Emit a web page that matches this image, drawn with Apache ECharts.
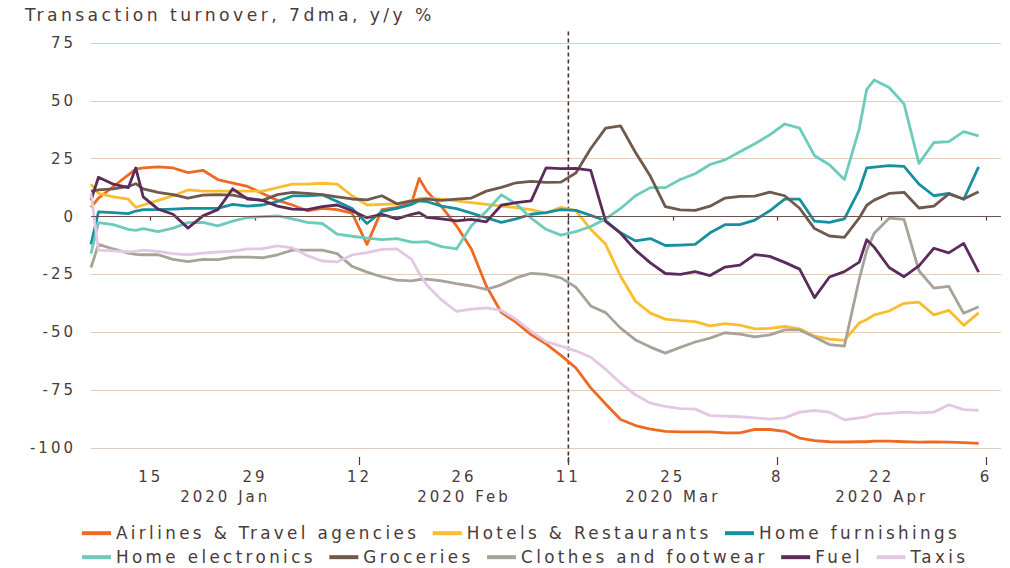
<!DOCTYPE html>
<html>
<head>
<meta charset="utf-8">
<title>Transaction turnover, 7dma</title>
<script src="https://cdn.jsdelivr.net/npm/echarts@6.0.0/dist/echarts.min.js"></script>
<style>
  html, body { margin: 0; padding: 0; background: #ffffff; }
  #chart { width: 1010px; height: 568px; }
  /* the source artwork uses a wide, tracked typeface */
  #chart svg text { letter-spacing: 0.2em; }
</style>
</head>
<body>
<div id="chart"></div>
<script>
;(function () {

    'use strict';

    // x categories (observation dates)
    var dates = [
        '2020-01-07', '2020-01-08', '2020-01-10', '2020-01-12', '2020-01-13', '2020-01-14', '2020-01-16',
        '2020-01-18', '2020-01-20', '2020-01-22', '2020-01-24', '2020-01-26', '2020-01-28', '2020-01-30',
        '2020-02-01', '2020-02-03', '2020-02-05', '2020-02-07', '2020-02-09', '2020-02-11', '2020-02-13',
        '2020-02-15', '2020-02-17', '2020-02-19', '2020-02-20', '2020-02-21', '2020-02-23', '2020-02-25',
        '2020-02-27', '2020-02-29',
        '2020-03-02', '2020-03-04', '2020-03-06', '2020-03-08', '2020-03-10', '2020-03-12', '2020-03-14',
        '2020-03-16', '2020-03-18', '2020-03-20', '2020-03-22', '2020-03-24', '2020-03-26', '2020-03-28',
        '2020-03-30',
        '2020-04-01', '2020-04-03', '2020-04-05', '2020-04-07', '2020-04-09', '2020-04-11', '2020-04-13',
        '2020-04-15', '2020-04-17', '2020-04-19', '2020-04-20', '2020-04-21', '2020-04-23', '2020-04-25',
        '2020-04-27', '2020-04-29',
        '2020-05-01', '2020-05-03', '2020-05-05'
    ];

    // y/y %, one value per date above
    var airlines = [
        4, 8, 13, 18, 20.5, 21, 21.5, 21, 19, 20, 16, 14.5, 13, 10,
        7, 5, 2.5, 3.5, 3, 1.5, -12, 3, 4, 6, 16.5, 11, 4.3, -4, -14, -30,
        -41.4, -45.7, -51, -55, -60, -65.4, -74, -81, -87.7, -90.3, -91.8, -92.8, -93, -93, -93,
        -93.5, -93.5, -92, -92, -92.8, -95.7, -96.8, -97.3, -97.4, -97.3, -97.3, -97, -97, -97.3, -97.5, -97.4,
        -97.5, -97.7, -98
    ];
    var hotels = [
        14, 10, 8.5, 7.5, 4, 5, 7, 9, 11.5, 11, 11, 11, 11, 11,
        12.5, 14, 14, 14.4, 14, 9, 5, 5.3, 5.5, 7, 7.8, 8, 7.5, 6.8, 6, 5.3,
        4.5, 3.9, 3, 1.5, 4, 2.6, -5.5, -12, -25.8, -36.6, -41.7, -44.3, -45, -45.4, -47.2,
        -46.3, -46.9, -48.5, -48.3, -47.5, -48.5, -51.7, -53, -53.5, -46, -44.5, -42.5, -40.8, -37.5, -37, -42.5,
        -40.5, -47, -41.6
    ];
    var furnishings = [
        -12, 2, 1.7, 1.3, 2.4, 3, 3, 3.2, 3.5, 3.5, 3.5, 5.3, 4.5, 5,
        6.5, 8.9, 9, 9.4, 6.5, 3.5, -3, 2.2, 3.5, 5.3, 6.8, 6.5, 4.5, 3.4, 1.5, -0.5,
        -2.5, -1, 1, 1.7, 3, 2.7, 0.5, -1.8, -7, -10.5, -9.5, -12.5, -12.3, -12, -7,
        -3.5, -3.5, -1.5, 2.5, 7.5, 7.5, -2, -2.5, -1, 11.5, 21, 21.4, 22, 21.7, 14, 9,
        10, 7.5, 21.5
    ];
    var electronics = [
        -16, -2.6, -3.5, -5.5, -6, -5.2, -6.5, -5, -2.6, -2.5, -4, -2, -0.4, 0,
        0.3, -1, -2.5, -3, -7.6, -8.5, -9.3, -10, -9.5, -11, -11, -10.8, -13, -14, -4, 2.3,
        9.4, 5.5, -0.7, -5.5, -8, -6.5, -4.3, -1, 3.5, 9, 12.5, 12.5, 16, 18.5, 22.5,
        24.5, 28, 31.5, 35.3, 40, 38.2, 26.3, 22.4, 16, 38, 55, 59, 55.8, 48.7, 23, 32,
        32.4, 36.7, 34.9
    ];
    var groceries = [
        11, 11.5, 12, 13, 14.2, 12, 10.5, 9.5, 8, 9.3, 9.5, 9.3, 8, 7,
        9.5, 10.5, 10, 9.5, 8.5, 7.6, 7.2, 9, 5.5, 6.8, 7.2, 7.5, 7, 7.5, 8, 11,
        12.6, 14.6, 15.2, 14.8, 14.9, 18.8, 29.4, 38.2, 39.2, 27.7, 17.4, 4.3, 2.9, 2.7, 4.5,
        8, 8.7, 8.8, 10.6, 9, 3.6, -5.2, -8.4, -9, -0.6, 4.9, 7.1, 10, 10.5, 3.7, 4.5,
        9.8, 7.6, 10.7
    ];
    var clothes = [
        -22, -12, -14, -15.8, -16.3, -16.5, -16.5, -18.5, -19.5, -18.5, -18.6, -17.5, -17.5, -17.8,
        -16.5, -14.5, -14.5, -14.5, -16, -21.5, -24, -26, -27.5, -27.8, -27.2, -27, -27.8, -29, -30, -31.5,
        -29.5, -26.5, -24.5, -25, -26.5, -30.5, -38.6, -41.5, -48.2, -53.3, -56.4, -59, -56.5, -54.2, -52.5,
        -50.2, -50.8, -52, -51.1, -49, -49, -52, -55.3, -56, -27, -14.6, -7.2, -0.7, -1.2, -23.4, -30.9,
        -30.2, -41.8, -39
    ];
    var fuel = [
        7, 17, 14, 12.5, 21, 8.5, 3.2, 1, -5, 0.3, 3, 12, 7.5, 7,
        4.5, 3.2, 3, 4.3, 5, 2.5, -0.5, 1, -1, 1, 1.7, -0.3, -1, -1.9, -1.2, -2.3,
        4.9, 6, 6.8, 21, 20.7, 20.8, 20, -2.1, -7.2, -14.5, -20, -24.6, -25, -23.8, -25.5,
        -21.8, -21, -16.4, -17.2, -19.8, -22.7, -35, -26.1, -23.8, -19.7, -10, -13.2, -22, -26, -21.3, -13.7,
        -15.7, -11.6, -24
    ];
    var taxis = [
        10, -14.5, -14.8, -15.2, -15, -14.5, -15, -16, -16.5, -15.8, -15.3, -14.9, -14, -13.9,
        -12.7, -13.5, -16.9, -19.2, -19.6, -16.6, -15.6, -14.2, -14, -18.5, -24.5, -29.6, -36, -41, -40, -39.5,
        -40.5, -44.5, -49.5, -54, -56, -58, -60.8, -66, -72, -77, -80.6, -82, -83, -83.2, -86,
        -86.2, -86.5, -87, -87.5, -87, -84.5, -83.8, -84.5, -87.8, -87, -86.5, -85.4, -85, -84.5, -84.8, -84.5,
        -81.3, -83.4, -83.7
    ];

    var seriesNames = [
        'Airlines & Travel agencies', 'Hotels & Restaurants', 'Home furnishings',
        'Home electronics', 'Groceries', 'Clothes and footwear', 'Fuel', 'Taxis'
    ];
    var seriesValues = [airlines, hotels, furnishings, electronics, groceries, clothes, fuel, taxis];
    var seriesColors = ['#ee6a24', '#fbbd30', '#16909f', '#6dcbbb', '#6f594d', '#a8a398', '#5b2c5b', '#e3c7e3'];

    var legendRow1 = ['Airlines & Travel agencies', 'Hotels & Restaurants', 'Home furnishings'];
    var legendRow2 = ['Home electronics', 'Groceries', 'Clothes and footwear', 'Fuel', 'Taxis'];

    // axis ticks and labels
    var dayTickDates = ['2020-01-15', '2020-01-29', '2020-02-12', '2020-02-26', '2020-03-11',
                        '2020-03-25', '2020-04-08', '2020-04-22', '2020-05-06'];
    var longTickDates = ['2020-02-12', '2020-03-11', '2020-04-08', '2020-05-06'];
    var monthLabelDates = ['2020-01-25', '2020-02-26', '2020-03-25', '2020-04-22'];
    var monthLabels = ['2020 Jan', '2020 Feb', '2020 Mar', '2020 Apr'];
    var axisStart = '2020-01-07';
    var axisEnd = '2020-05-08';
    var eventDate = '2020-03-11';

    var titleText = 'Transaction turnover, 7dma, y/y %';
    var ink = '#4b3a3a';
    var font = 'DejaVu Sans';
    var SPACING = 0.2;

    // dates are placed on a value axis as day numbers (1 Jan 2020 = 0)
    var dayOf = function (s) {
        var p = s.split('-');
        return Math.round((new Date(+p[0], +p[1] - 1, +p[2]) - new Date(2020, 0, 1)) / 86400000);
    };
    var dateOf = function (n) {
        return new Date(2020, 0, 1 + Math.round(n));
    };

    // let the layout know about the tracked lettering
    if (echarts.setPlatformAPI) {
        var measureCtx = document.createElement('canvas').getContext('2d');
        echarts.setPlatformAPI({
            measureText: function (text, f) {
                text = text == null ? '' : String(text);
                measureCtx.font = f || '12px sans-serif';
                var m = /(\d+(?:\.\d+)?)px/.exec(f || '');
                var size = m ? parseFloat(m[1]) : 12;
                return { width: measureCtx.measureText(text).width + text.length * size * SPACING };
            }
        });
    }

    var dayTicks = dayTickDates.map(dayOf);
    var longTicks = longTickDates.map(dayOf);
    var monthTicks = monthLabelDates.map(dayOf);
    var xMin = dayOf(axisStart);
    var xMax = dayOf(axisEnd);

    var lineSeries = seriesNames.map(function (name, i) {
        return {
            name: name,
            type: 'line',
            data: dates.map(function (d, k) { return [dayOf(d), seriesValues[i][k]]; }),
            symbol: 'none',
            showSymbol: false,
            color: seriesColors[i],
            lineStyle: { width: 2.8, color: seriesColors[i], join: 'round' },
            emphasis: { disabled: true },
            z: 3
        };
    });

    // dashed event marker and the zero line
    lineSeries.unshift({
        name: 'event',
        type: 'line',
        data: [[dayOf(eventDate), 80], [dayOf(eventDate), -107.5]],
        symbol: 'none',
        clip: false,
        silent: true,
        z: 1,
        lineStyle: { color: '#4a3232', width: 1.6, type: [4, 3] },
        emphasis: { disabled: true },
        markLine: {
            silent: true,
            symbol: 'none',
            animation: false,
            label: { show: false },
            lineStyle: { color: '#6b5450', width: 1.2, type: 'solid' },
            emphasis: { disabled: true },
            data: [{ yAxis: 0 }]
        }
    });

    var legendBase = function (names, top) {
        return {
            data: names,
            left: 82,
            top: top,
            padding: 0,
            icon: 'rect',
            itemWidth: 29,
            itemHeight: 4,
            itemGap: 13.5,
            textStyle: { fontSize: 16.8, color: ink, fontFamily: font }
        };
    };

    var xBase = function (extra) {
        var axis = {
            type: 'value',
            min: xMin,
            max: xMax,
            position: 'bottom',
            offset: 9,
            axisLine: { show: false },
            splitLine: { show: false }
        };
        for (var k in extra) { axis[k] = extra[k]; }
        return axis;
    };

    var chart = echarts.init(document.getElementById('chart'), null, { renderer: 'svg' });

    var option = {
        animation: false,
        backgroundColor: '#ffffff',
        textStyle: { fontFamily: font, color: ink },
        title: {
            text: titleText,
            left: 25,
            top: 5,
            padding: 0,
            textStyle: { fontSize: 17.2, fontWeight: 'normal', color: ink, fontFamily: font }
        },
        legend: [legendBase(legendRow1, 523), legendBase(legendRow2, 547)],
        grid: { left: 91, right: 9, top: 43, bottom: 120 },
        xAxis: [
            xBase({
                axisTick: { show: true, customValues: dayTicks, length: 4, lineStyle: { color: ink, width: 1.2 } },
                axisLabel: {
                    customValues: dayTicks,
                    margin: 11,
                    fontSize: 15,
                    color: ink,
                    formatter: function (v) { return String(dateOf(v).getDate()); }
                }
            }),
            xBase({
                axisTick: { show: true, customValues: longTicks, length: 8, lineStyle: { color: ink, width: 1.2 } },
                axisLabel: { show: false }
            }),
            xBase({
                axisTick: { show: false },
                axisLabel: {
                    customValues: monthTicks,
                    margin: 31,
                    fontSize: 15,
                    color: ink,
                    formatter: function (v) {
                        var k = monthTicks.indexOf(Math.round(v));
                        return k >= 0 ? monthLabels[k] : '';
                    }
                }
            })
        ],
        yAxis: {
            type: 'value',
            min: -100,
            max: 75,
            interval: 25,
            axisLine: { show: false },
            axisTick: { show: false },
            axisLabel: { fontSize: 15, color: ink, margin: 15 },
            splitLine: { lineStyle: { color: '#e2cdbd', width: 1 } }
        },
        series: lineSeries
    };

    chart.setOption(option);

}());
</script>
</body>
</html>
